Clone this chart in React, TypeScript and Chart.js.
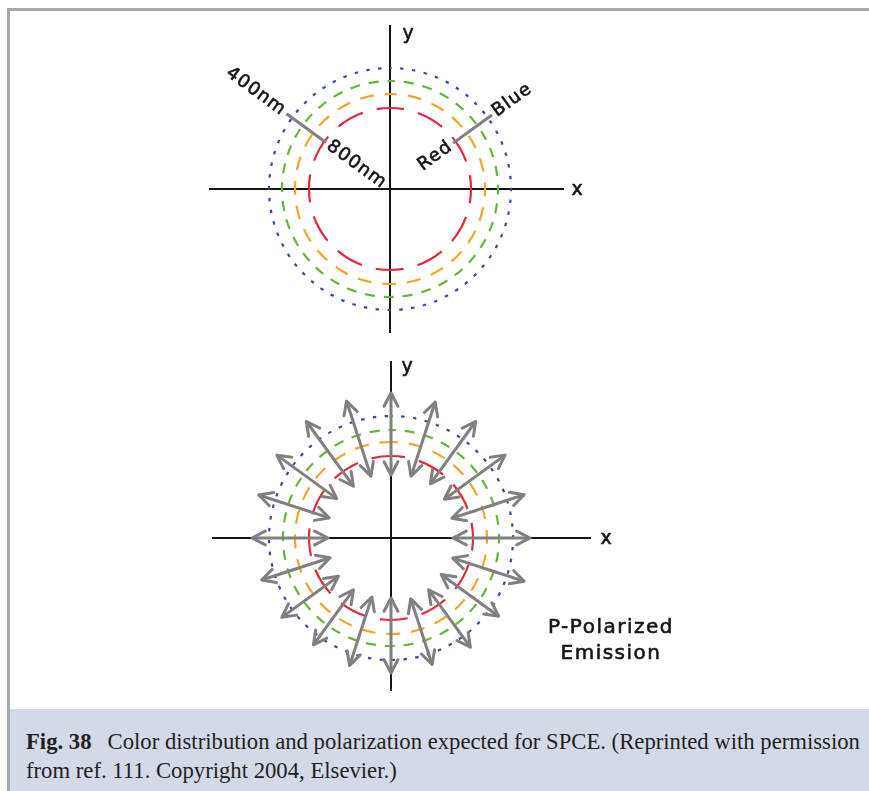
import React, { useEffect, useRef } from "react";
import { Chart, registerables } from "chart.js";

Chart.register(...registerables);

// ---------------- data ----------------
const ringNames = ["Red (800 nm)", "Orange", "Green", "Blue (400 nm)"];
const topRingRadii = [81, 95, 108, 121];
const bottomRingRadii = [82, 96, 108, 122];

const arrowAngles = [0, 18, 36, 54, 72, 90, 108, 126, 144, 162, 180, 198, 216, 234, 252, 270, 288, 306, 324, 342];
const arrowInnerRadii = [62, 64, 66, 67, 65, 63, 65, 64, 67, 65, 63, 64, 65, 64, 62, 60, 64, 64, 62, 65];
const arrowOuterRadii = [139, 140, 141, 144, 143, 145, 144, 144, 141, 139, 139, 136, 135, 132, 134, 135, 133, 135, 133, 140];

const leaderAngles = [144, 36];
const leaderInnerRadii = [79, 78];
const leaderOuterRadii = [128, 126];
const leaderOuterText = ["400nm", "Blue"];
const leaderInnerText = ["800nm", "Red"];

const axisNames = ["x", "y"];
const emissionText = ["P-Polarized", "Emission"];
const captionBold = "Fig. 38";
const captionLine1 = "Color distribution and polarization expected for SPCE. (Reprinted with permission";
const captionLine2 = "from ref. 111. Copyright 2004, Elsevier.)";

// ---------------- styles ----------------
const ringColors = ["#e3283a", "#f2a52b", "#6cb23f", "#3b47a0"];
const ringDashes = [
  [28, 14.4],
  [14, 10.9],
  [10, 8.9],
  [3.5, 8.4],
];
const GRAY = "#808080";
const INK = "#151515";
const LABEL_FONT = '18px "DejaVu Sans", sans-serif';

type Box = { left: number; top: number; width: number; height: number };
type Ext = { xMin: number; xMax: number; yMin: number; yMax: number };

function rad(d: number) {
  return (d * Math.PI) / 180;
}

function paintText(ctx: CanvasRenderingContext2D, text: string, x: number, y: number) {
  ctx.fillText(text, x, y);
  ctx.strokeText(text, x, y);
}

function drawRadialLabel(
  ctx: CanvasRenderingContext2D,
  cx: number,
  cy: number,
  r: number,
  angleDeg: number,
  text: string,
  outward: boolean
) {
  const a = rad(angleDeg);
  const ox = Math.cos(a);
  const oy = -Math.sin(a);
  const flip = ox < 0;
  const rx = flip ? -ox : ox;
  const ry = flip ? -oy : oy;
  ctx.save();
  ctx.translate(cx + r * ox, cy + r * oy);
  ctx.rotate(Math.atan2(ry, rx));
  ctx.textAlign = outward ? (flip ? "right" : "left") : flip ? "left" : "right";
  ctx.textBaseline = "middle";
  paintText(ctx, text, 0, 0);
  ctx.restore();
}

function arrowHead(ctx: CanvasRenderingContext2D, tx: number, ty: number, fx: number, fy: number) {
  const a = Math.atan2(ty - fy, tx - fx);
  const len = 15;
  const sp = 0.48;
  ctx.beginPath();
  ctx.moveTo(tx - len * Math.cos(a - sp), ty - len * Math.sin(a - sp));
  ctx.lineTo(tx, ty);
  ctx.lineTo(tx - len * Math.cos(a + sp), ty - len * Math.sin(a + sp));
  ctx.stroke();
}

function Panel(props: {
  kind: "top" | "bottom";
  box: Box;
  center: { x: number; y: number };
  ext: Ext;
  xLabel: { x: number; y: number };
  yLabel: { x: number; y: number };
  note?: { x: number; y: number };
}) {
  const ref = useRef<HTMLCanvasElement>(null);
  useEffect(() => {
    const { kind, box, center, ext, xLabel, yLabel, note } = props;
    const canvas = ref.current!;
    const padding = {
      left: center.x + ext.xMin - box.left,
      right: box.left + box.width - (center.x + ext.xMax),
      top: center.y - ext.yMax - box.top,
      bottom: box.top + box.height - (center.y - ext.yMin),
    };
    const radii = kind === "top" ? topRingRadii : bottomRingRadii;

    const datasets: any[] = [];
    if (kind === "top") {
      leaderAngles.forEach((ang, i) => {
        const a = rad(ang);
        datasets.push({
          label: `${leaderOuterText[i]} / ${leaderInnerText[i]}`,
          data: [
            { x: leaderInnerRadii[i] * Math.cos(a), y: leaderInnerRadii[i] * Math.sin(a) },
            { x: leaderOuterRadii[i] * Math.cos(a), y: leaderOuterRadii[i] * Math.sin(a) },
          ],
          showLine: true,
          borderColor: GRAY,
          borderWidth: 3,
          pointRadius: 0,
          borderCapStyle: "butt",
          isArrow: false,
        });
      });
    } else {
      arrowAngles.forEach((ang, i) => {
        const a = rad(ang);
        datasets.push({
          label: `arrow ${ang}`,
          data: [
            { x: arrowInnerRadii[i] * Math.cos(a), y: arrowInnerRadii[i] * Math.sin(a) },
            { x: arrowOuterRadii[i] * Math.cos(a), y: arrowOuterRadii[i] * Math.sin(a) },
          ],
          showLine: true,
          borderColor: GRAY,
          borderWidth: 3,
          pointRadius: 0,
          borderCapStyle: "butt",
          isArrow: true,
        });
      });
    }

    const plugin = {
      id: "diagram-" + kind,
      beforeDatasetsDraw(chart: any) {
        const { ctx, scales } = chart;
        const sx = scales.x;
        const sy = scales.y;
        const cx = sx.getPixelForValue(0);
        const cy = sy.getPixelForValue(0);
        ctx.save();
        radii.forEach((r, i) => {
          const rp = sx.getPixelForValue(r) - cx;
          ctx.beginPath();
          ctx.setLineDash(ringDashes[i]);
          ctx.lineDashOffset = ringDashes[i][0] / 2;
          ctx.strokeStyle = ringColors[i];
          ctx.lineWidth = 2.2;
          ctx.arc(cx, cy, rp, -Math.PI / 2, (3 * Math.PI) / 2);
          ctx.stroke();
        });
        ctx.restore();
      },
      afterDatasetsDraw(chart: any) {
        const { ctx, scales } = chart;
        const sx = scales.x;
        const sy = scales.y;
        const cx = sx.getPixelForValue(0);
        const cy = sy.getPixelForValue(0);
        ctx.save();
        // arrow heads
        ctx.strokeStyle = GRAY;
        ctx.lineWidth = 3;
        ctx.lineJoin = "round";
        ctx.lineCap = "round";
        chart.data.datasets.forEach((ds: any, i: number) => {
          if (!ds.isArrow) return;
          const pts = chart.getDatasetMeta(i).data;
          const p0 = pts[0];
          const p1 = pts[1];
          arrowHead(ctx, p0.x, p0.y, p1.x, p1.y);
          arrowHead(ctx, p1.x, p1.y, p0.x, p0.y);
        });
        // text
        ctx.fillStyle = INK;
        ctx.strokeStyle = INK;
        ctx.lineWidth = 0.6;
        ctx.lineJoin = "round";
        ctx.font = '19px "DejaVu Sans", sans-serif';
        ctx.textAlign = "center";
        ctx.textBaseline = "middle";
        paintText(ctx, axisNames[0], sx.getPixelForValue(xLabel.x), sy.getPixelForValue(xLabel.y));
        paintText(ctx, axisNames[1], sx.getPixelForValue(yLabel.x), sy.getPixelForValue(yLabel.y));
        if (kind === "top") {
          ctx.font = LABEL_FONT;
          (ctx as any).letterSpacing = "1.2px";
          leaderAngles.forEach((ang, i) => {
            const outer = sx.getPixelForValue(leaderOuterRadii[i] + 3) - cx;
            const inner = sx.getPixelForValue(leaderInnerRadii[i] - 3) - cx;
            drawRadialLabel(ctx, cx, cy, outer, ang, leaderOuterText[i], true);
            drawRadialLabel(ctx, cx, cy, inner, ang, leaderInnerText[i], false);
          });
        } else if (note) {
          ctx.font = '20px "DejaVu Sans", sans-serif';
          (ctx as any).letterSpacing = "1.5px";
          ctx.textAlign = "center";
          paintText(ctx, emissionText[0], sx.getPixelForValue(note.x), sy.getPixelForValue(note.y));
          paintText(ctx, emissionText[1], sx.getPixelForValue(note.x), sy.getPixelForValue(note.y - 26));
        }
        ctx.restore();
      },
    };

    const chart = new Chart(canvas, {
      type: "scatter",
      data: { datasets },
      options: {
        animation: false,
        responsive: false,
        maintainAspectRatio: false,
        events: [],
        layout: { padding },
        plugins: { legend: { display: false }, tooltip: { enabled: false } },
        scales: {
          x: {
            type: "linear",
            min: ext.xMin,
            max: ext.xMax,
            position: { y: 0 } as any,
            grid: { display: false },
            ticks: { display: false },
            border: { display: true, color: INK, width: 2 },
          },
          y: {
            type: "linear",
            min: ext.yMin,
            max: ext.yMax,
            position: { x: 0 } as any,
            grid: { display: false },
            ticks: { display: false },
            border: { display: true, color: INK, width: 2 },
          },
        },
      } as any,
      plugins: [plugin as any],
    });
    return () => chart.destroy();
  }, []);
  const { box } = props;
  return (
    <canvas
      ref={ref}
      width={box.width}
      height={box.height}
      style={{ position: "absolute", left: box.left, top: box.top, width: box.width, height: box.height }}
    />
  );
}

export default function App() {
  return (
    <div
      style={{
        position: "absolute",
        left: 0,
        top: 0,
        width: 869,
        height: 791,
        overflow: "hidden",
        background: "#ffffff",
      }}
    >
      <div
        style={{
          position: "absolute",
          left: 7,
          top: 8,
          width: 862,
          height: 783,
          borderTop: "3px solid #a9a9ab",
          borderLeft: "3px solid #a9a9ab",
          boxSizing: "border-box",
        }}
      />
      <Panel
        kind="top"
        box={{ left: 200, top: 18, width: 410, height: 330 }}
        center={{ x: 390, y: 189 }}
        ext={{ xMin: -180, xMax: 173, yMin: -143, yMax: 163 }}
        xLabel={{ x: 187, y: -1 }}
        yLabel={{ x: 18, y: 155 }}
      />
      <Panel
        kind="bottom"
        box={{ left: 200, top: 352, width: 490, height: 350 }}
        center={{ x: 391, y: 538 }}
        ext={{ xMin: -178, xMax: 199, yMin: -152, yMax: 176 }}
        xLabel={{ x: 215, y: -1 }}
        yLabel={{ x: 16, y: 171 }}
        note={{ x: 220, y: -90 }}
      />
      <div
        style={{
          position: "absolute",
          left: 10,
          top: 709,
          width: 859,
          height: 82,
          background: "#d4d9e7",
        }}
      >
        <div
          style={{
            position: "absolute",
            left: 16,
            top: 18,
            whiteSpace: "nowrap",
            fontFamily: '"Liberation Serif", "Times New Roman", serif',
            fontSize: 22.7,
            lineHeight: "29px",
            color: "#231f20",
          }}
        >
          <b>{captionBold}</b>
          <span style={{ display: "inline-block", width: 16 }} />
          {captionLine1}
          <br />
          {captionLine2}
        </div>
      </div>
    </div>
  );
}
